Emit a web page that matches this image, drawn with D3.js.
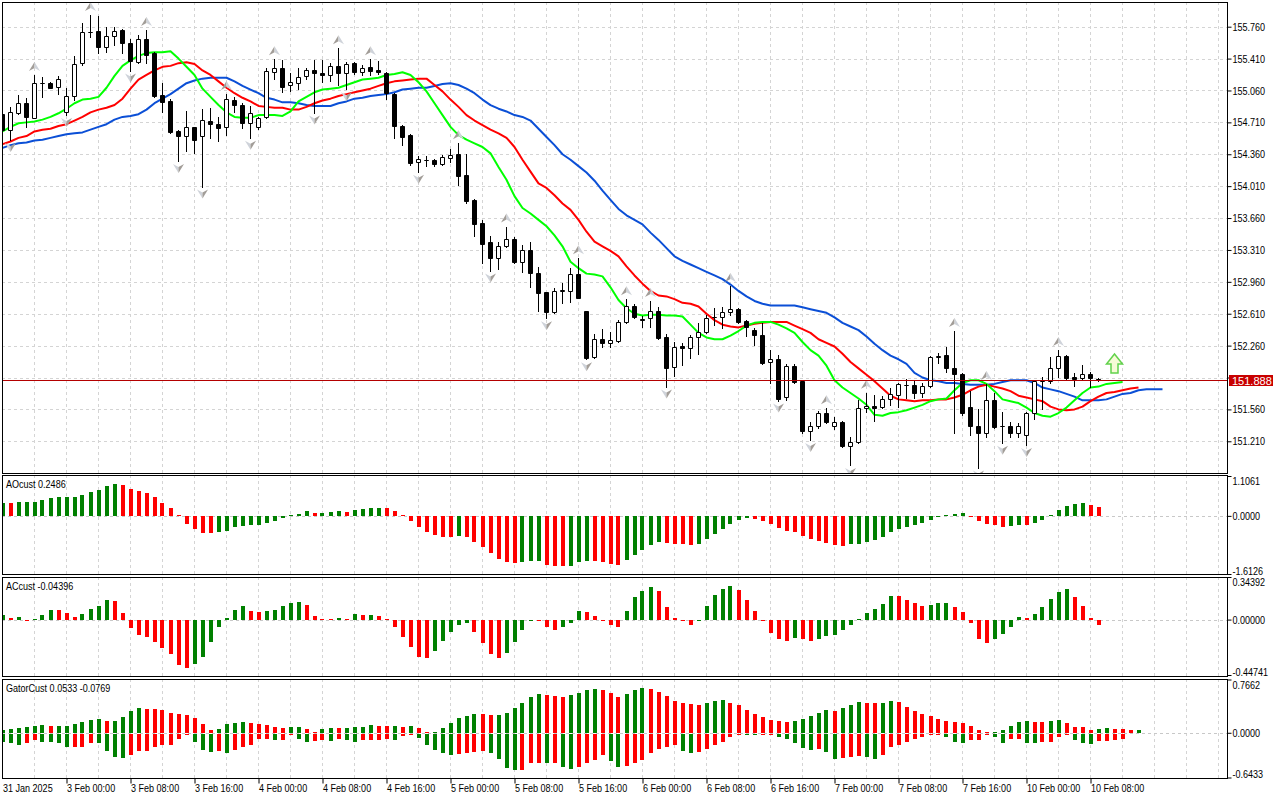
<!DOCTYPE html>
<html>
<head>
<meta charset="utf-8">
<script src="https://cdn.jsdelivr.net/npm/d3@7/dist/d3.min.js"></script>
<style>
html,body{margin:0;padding:0;background:#fff;overflow:hidden}
svg{display:block}
</style>
</head>
<body>
<svg id="chart" width="1280" height="800"></svg>
<script>
// ---------------- DATA ----------------
const openP = [154.802,154.627,154.817,154.919,154.762,155.146,155.139,155.095,154.828,155.003,
155.358,155.705,155.713,155.541,155.658,155.724,155.585,155.376,155.621,155.468,
155.011,154.948,154.616,154.564,154.659,154.564,154.725,154.692,154.656,154.956,
154.897,154.707,154.663,154.766,155.267,155.310,155.120,155.146,155.219,155.285,
155.256,155.230,155.329,155.248,155.358,155.267,155.314,155.285,155.256,155.022,
154.674,154.572,154.272,154.297,154.297,154.253,154.316,154.363,154.133,153.858,
153.610,153.394,153.218,153.357,153.434,153.182,153.310,153.054,152.845,152.633,
152.860,152.863,153.043,152.640,152.132,152.333,152.286,152.315,152.523,152.695,
152.553,152.560,152.644,152.351,152.030,152.256,152.231,152.351,152.414,152.571,
152.578,152.633,152.659,152.531,152.432,152.377,152.085,152.110,151.693,152.041,
151.872,151.324,151.382,151.525,151.379,151.426,151.162,151.206,151.572,151.598,
151.583,151.671,151.719,151.825,151.829,151.737,151.818,152.132,152.154,152.011,
151.945,151.583,151.382,151.298,151.664,151.382,151.379,151.298,151.280,151.518,
151.869,151.872,152.011,152.147,151.920,151.901,151.949,151.894];
const highP = [154.846,154.875,155.011,154.974,155.230,155.204,155.157,155.219,155.091,155.439,
155.804,155.888,155.877,155.760,155.753,155.731,155.621,155.669,155.724,155.486,
155.139,154.963,154.627,154.835,154.663,154.861,154.864,154.766,155.022,154.992,
154.919,154.890,154.773,155.303,155.402,155.395,155.256,155.303,155.303,155.395,
155.395,155.358,155.523,155.376,155.376,155.340,155.402,155.387,155.267,155.029,
154.681,154.579,154.341,154.341,154.305,154.352,154.414,154.480,154.363,153.866,
153.639,153.463,153.401,153.566,153.449,153.365,153.394,153.127,152.853,152.889,
152.951,153.109,153.218,152.640,152.388,152.439,152.414,152.542,152.768,152.717,
152.586,152.750,152.681,152.388,152.304,152.286,152.377,152.512,152.597,152.670,
152.688,152.915,152.670,152.542,152.450,152.505,152.213,152.158,152.055,152.055,
151.883,151.426,151.547,151.572,151.481,151.437,151.261,151.664,151.744,151.719,
151.708,151.792,151.854,151.891,151.883,151.847,152.147,152.176,152.249,152.421,
151.956,151.766,151.562,151.840,151.737,151.536,151.426,151.415,151.536,151.883,
151.913,152.132,152.213,152.154,151.956,152.048,151.975,151.901];
const lowP = [154.608,154.517,154.802,154.663,154.755,154.992,155.084,155.022,154.791,154.956,
155.340,155.651,155.468,155.486,155.559,155.468,155.278,155.358,155.358,154.985,
154.828,154.597,154.286,154.400,154.378,154.005,154.542,154.509,154.572,154.828,
154.645,154.542,154.638,154.755,155.186,155.047,155.055,155.073,155.182,154.817,
155.157,155.168,155.120,155.073,155.241,155.230,155.230,155.241,154.963,154.535,
154.462,154.243,154.169,154.232,154.235,154.243,154.272,154.023,153.822,153.463,
153.171,153.083,153.105,153.346,153.164,153.072,152.908,152.644,152.560,152.615,
152.732,152.743,152.780,152.110,152.121,152.249,152.242,152.304,152.512,152.560,
152.469,152.461,152.330,151.810,151.927,152.048,152.128,152.169,152.395,152.487,
152.450,152.597,152.505,152.366,152.267,152.055,151.854,151.657,151.664,151.854,
151.305,151.225,151.360,151.415,151.342,151.152,150.950,151.195,151.536,151.437,
151.572,151.609,151.591,151.682,151.682,151.693,151.803,152.066,151.975,151.305,
151.499,151.280,150.921,151.261,151.353,151.195,151.261,151.261,151.170,151.452,
151.562,151.854,151.913,151.883,151.821,151.891,151.810,151.876];
const closeP = [154.627,154.820,154.919,154.766,155.139,155.142,155.091,155.182,155.003,155.351,
155.698,155.700,155.541,155.658,155.717,155.577,155.387,155.621,155.450,155.000,
154.937,154.608,154.564,154.659,154.517,154.736,154.689,154.652,154.963,154.897,
154.707,154.809,154.755,155.274,155.310,155.102,155.150,155.212,155.281,155.256,
155.230,155.329,155.248,155.351,155.267,155.310,155.278,155.259,155.036,154.674,
154.553,154.261,154.305,154.294,154.253,154.327,154.352,154.125,153.851,153.595,
153.376,153.218,153.357,153.430,153.182,153.310,153.054,152.842,152.633,152.863,
152.867,153.043,152.787,152.128,152.330,152.286,152.322,152.523,152.695,152.571,
152.545,152.644,152.341,152.019,152.249,152.231,152.351,152.414,152.560,152.578,
152.633,152.659,152.523,152.469,152.377,152.074,152.110,151.675,152.041,151.865,
151.324,151.382,151.525,151.426,151.426,151.159,151.206,151.572,151.598,151.572,
151.671,151.726,151.836,151.832,151.737,151.818,152.132,152.147,152.011,151.945,
151.525,151.382,151.298,151.664,151.371,151.375,151.298,151.379,151.518,151.872,
151.876,152.011,152.147,151.909,151.898,151.945,151.901,151.888];

// Alligator lines (already shifted: lips +3, teeth +5, jaw +8 bars)
const lips = [154.61,154.66,154.70,154.71,154.72,154.74,154.77,154.81,154.86,154.92,
154.96,154.97,154.99,155.09,155.22,155.33,155.39,155.44,155.47,155.48,
155.48,155.49,155.41,155.32,155.23,155.08,154.99,154.90,154.82,154.77,
154.76,154.76,154.79,154.79,154.79,154.78,154.83,154.94,154.99,155.04,
155.07,155.08,155.09,155.12,155.15,155.18,155.19,155.20,155.23,155.24,
155.26,155.23,155.15,155.05,154.92,154.79,154.66,154.57,154.52,154.48,
154.44,154.37,154.22,154.08,153.90,153.77,153.71,153.64,153.57,153.47,
153.35,153.18,153.11,153.05,153.04,153.02,152.90,152.76,152.67,152.61,
152.59,152.60,152.60,152.59,152.59,152.58,152.49,152.40,152.35,152.33,
152.33,152.37,152.42,152.48,152.51,152.52,152.52,152.49,152.45,152.40,
152.30,152.21,152.15,152.04,151.88,151.80,151.74,151.68,151.61,151.50,
151.49,151.52,151.53,151.55,151.58,151.61,151.65,151.67,151.68,151.77,
151.85,151.88,151.88,151.84,151.76,151.67,151.65,151.63,151.58,151.52,
151.49,151.48,151.52,151.58,151.66,151.74,151.80,151.81,151.84,151.85,
151.86];
const teeth = [154.47,154.50,154.54,154.56,154.61,154.63,154.64,154.67,154.69,154.73,
154.77,154.82,154.85,154.87,154.90,154.97,155.08,155.18,155.23,155.28,
155.32,155.33,155.36,155.37,155.35,155.28,155.23,155.16,155.09,155.03,
154.98,154.94,154.89,154.88,154.87,154.87,154.85,154.85,154.88,154.92,
154.95,154.97,155.00,155.02,155.04,155.06,155.08,155.11,155.14,155.16,
155.17,155.18,155.19,155.19,155.12,155.05,154.96,154.88,154.79,154.73,
154.68,154.63,154.59,154.54,154.44,154.30,154.17,154.04,153.99,153.91,
153.82,153.75,153.64,153.51,153.40,153.35,153.30,153.24,153.13,153.03,
152.94,152.86,152.81,152.80,152.77,152.73,152.72,152.69,152.61,152.54,
152.49,152.47,152.46,152.48,152.50,152.51,152.52,152.52,152.52,152.48,
152.44,152.40,152.33,152.29,152.25,152.17,152.08,152.01,151.94,151.87,
151.79,151.71,151.67,151.66,151.65,151.66,151.66,151.67,151.67,151.69,
151.72,151.77,151.81,151.83,151.81,151.79,151.76,151.71,151.69,151.67,
151.65,151.59,151.56,151.55,151.56,151.59,151.65,151.70,151.74,151.75,
151.77,151.79,151.80];
const jaw = [154.43,154.46,154.48,154.49,154.51,154.52,154.54,154.56,154.58,154.59,
154.60,154.63,154.66,154.69,154.74,154.77,154.78,154.80,154.85,154.92,
154.97,155.02,155.08,155.14,155.17,155.19,155.20,155.20,155.20,155.16,
155.11,155.07,155.03,154.98,154.96,154.93,154.93,154.92,154.90,154.89,
154.89,154.89,154.92,154.94,154.97,154.98,155.00,155.01,155.02,155.04,
155.07,155.08,155.09,155.09,155.11,155.13,155.14,155.12,155.08,155.03,
154.96,154.90,154.86,154.83,154.79,154.77,154.73,154.64,154.55,154.46,
154.36,154.30,154.23,154.16,154.07,153.96,153.86,153.76,153.69,153.64,
153.59,153.50,153.42,153.33,153.24,153.19,153.15,153.11,153.07,153.03,
152.99,152.93,152.86,152.80,152.75,152.72,152.70,152.70,152.70,152.70,
152.68,152.66,152.64,152.62,152.57,152.51,152.47,152.43,152.36,152.28,
152.21,152.15,152.11,152.06,151.96,151.91,151.88,151.87,151.85,151.85,
151.84,151.83,151.83,151.83,151.84,151.86,151.88,151.88,151.88,151.85,
151.80,151.78,151.76,151.73,151.70,151.66,151.66,151.66,151.67,151.70,
151.73,151.74,151.77,151.78,151.78,151.78];

const fractalUp = [4,11,18,28,34,42,46,57,63,72,78,81,91,103,108,119,123,132];
const fractalDown = [1,8,16,22,25,31,39,43,52,61,68,73,83,97,101,106,122,125,128];

const aoValues = [0.360,0.350,0.389,0.392,0.395,0.444,0.500,0.518,0.522,0.537,
0.574,0.666,0.731,0.823,0.879,0.851,0.749,0.694,0.629,0.518,
0.352,0.222,0.009,-0.222,-0.361,-0.472,-0.475,-0.435,-0.407,-0.315,
-0.268,-0.262,-0.241,-0.185,-0.130,-0.056,0.005,0.055,0.140,0.083,
0.093,0.120,0.139,0.120,0.167,0.204,0.222,0.225,0.220,0.139,
0.019,-0.130,-0.296,-0.435,-0.518,-0.574,-0.580,-0.570,-0.592,-0.712,
-0.851,-1.027,-1.193,-1.286,-1.304,-1.267,-1.262,-1.258,-1.351,-1.378,
-1.385,-1.380,-1.267,-1.262,-1.265,-1.286,-1.332,-1.351,-1.221,-1.082,
-0.944,-0.796,-0.722,-0.759,-0.777,-0.780,-0.805,-0.777,-0.638,-0.500,
-0.361,-0.222,-0.111,-0.065,-0.093,-0.130,-0.222,-0.333,-0.407,-0.435,
-0.555,-0.638,-0.685,-0.749,-0.805,-0.833,-0.786,-0.777,-0.722,-0.657,
-0.574,-0.444,-0.361,-0.300,-0.241,-0.185,-0.102,-0.019,0.019,0.046,
0.074,-0.005,-0.130,-0.222,-0.250,-0.296,-0.290,-0.250,-0.255,-0.185,
-0.111,0.019,0.176,0.278,0.333,0.361,0.305,0.2486];

const acValues = [0.038,0.013,0.019,-0.005,0.005,0.038,0.078,0.075,0.054,0.019,
0.046,0.086,0.110,0.159,0.151,0.054,-0.067,-0.124,-0.143,-0.178,
-0.229,-0.277,-0.366,-0.390,-0.358,-0.299,-0.178,-0.059,0.013,0.078,
0.110,0.073,0.065,0.067,0.080,0.112,0.137,0.143,0.118,0.030,
0.008,0.005,0.011,0.003,0.046,0.038,0.040,0.030,0.005,-0.062,
-0.143,-0.218,-0.299,-0.307,-0.250,-0.175,-0.102,-0.040,-0.030,-0.097,
-0.186,-0.275,-0.312,-0.266,-0.178,-0.081,-0.008,-0.010,-0.062,-0.081,
-0.062,-0.024,0.070,0.062,0.030,-0.003,-0.040,-0.057,0.073,0.180,
0.231,0.261,0.231,0.102,0.013,-0.011,-0.040,-0.003,0.110,0.199,
0.245,0.269,0.240,0.159,0.070,-0.005,-0.105,-0.156,-0.170,-0.145,
-0.156,-0.170,-0.153,-0.129,-0.121,-0.081,-0.040,0.003,0.054,0.086,
0.127,0.191,0.188,0.159,0.135,0.110,0.118,0.135,0.137,0.105,
0.065,-0.030,-0.156,-0.186,-0.156,-0.116,-0.057,0.019,0.013,0.046,
0.102,0.167,0.223,0.248,0.183,0.110,0.013,-0.04396];

const gatorUpper = [0.038,0.053,0.062,0.086,0.096,0.115,0.096,0.097,0.098,0.125,
0.153,0.187,0.197,0.168,0.170,0.230,0.307,0.350,0.349,0.336,
0.321,0.283,0.268,0.254,0.211,0.129,0.043,0.053,0.120,0.144,
0.153,0.144,0.125,0.110,0.086,0.067,0.077,0.080,0.053,0.014,
0.053,0.067,0.066,0.068,0.081,0.086,0.115,0.101,0.096,0.097,
0.077,0.096,0.067,0.010,0.012,0.067,0.144,0.216,0.235,0.268,
0.265,0.254,0.259,0.288,0.355,0.431,0.518,0.556,0.537,0.532,
0.518,0.547,0.570,0.614,0.628,0.614,0.575,0.518,0.556,0.614,
0.642,0.628,0.585,0.527,0.460,0.431,0.412,0.403,0.427,0.451,
0.465,0.431,0.403,0.326,0.268,0.221,0.182,0.163,0.162,0.173,
0.197,0.240,0.283,0.326,0.312,0.350,0.398,0.436,0.435,0.427,
0.428,0.451,0.441,0.374,0.307,0.268,0.235,0.201,0.173,0.153,
0.139,0.091,0.034,0.003,0.005,0.034,0.096,0.153,0.168,0.153,
0.152,0.168,0.182,0.139,0.086,0.077,0.045,0.055,0.062,0.053,
0.050,0.038,0.040];
const gatorLower = [-0.139,-0.153,-0.173,-0.144,-0.101,-0.129,-0.130,-0.144,-0.201,-0.200,
-0.199,-0.144,-0.145,-0.259,-0.345,-0.360,-0.316,-0.259,-0.258,-0.201,
-0.173,-0.172,-0.091,-0.029,-0.129,-0.244,-0.273,-0.259,-0.288,-0.244,
-0.201,-0.173,-0.086,-0.085,-0.101,-0.100,-0.029,-0.086,-0.129,-0.115,
-0.101,-0.115,-0.091,-0.101,-0.129,-0.101,-0.100,-0.099,-0.091,-0.101,
-0.043,-0.029,-0.072,-0.173,-0.244,-0.297,-0.316,-0.310,-0.288,-0.273,
-0.259,-0.288,-0.374,-0.508,-0.537,-0.535,-0.431,-0.430,-0.441,-0.440,
-0.499,-0.523,-0.499,-0.441,-0.388,-0.316,-0.403,-0.499,-0.475,-0.431,
-0.388,-0.288,-0.230,-0.211,-0.173,-0.259,-0.297,-0.273,-0.235,-0.173,
-0.130,-0.067,-0.029,-0.031,-0.032,-0.019,-0.018,-0.058,-0.086,-0.144,
-0.221,-0.244,-0.230,-0.273,-0.374,-0.360,-0.345,-0.331,-0.345,-0.374,
-0.316,-0.211,-0.173,-0.129,-0.091,-0.058,-0.029,-0.010,-0.058,-0.129,
-0.144,-0.101,-0.100,-0.029,-0.058,-0.153,-0.086,-0.085,-0.144,-0.153,
-0.129,-0.128,-0.067,-0.029,-0.101,-0.153,-0.155,-0.125,-0.115,-0.101,
-0.091,0,0];

const priceTicks = [155.76,155.41,155.06,154.71,154.36,154.01,153.66,153.31,152.96,152.61,152.26,151.91,151.56,151.21];
const timeTickBars = [0,8,16,24,32,40,48,56,64,72,80,88,96,104,112,120,128,136];
const timeTickLabels = ["31 Jan 2025","3 Feb 00:00","3 Feb 08:00","3 Feb 16:00","4 Feb 00:00","4 Feb 08:00",
  "4 Feb 16:00","5 Feb 00:00","5 Feb 08:00","5 Feb 16:00","6 Feb 00:00","6 Feb 08:00","6 Feb 16:00",
  "7 Feb 00:00","7 Feb 08:00","7 Feb 16:00","10 Feb 00:00","10 Feb 08:00"];
const currentPrice = 151.888;
const signalArrow = {bar: 139, price: 151.960};
const aoTicks = [1.1061, 0, -1.6126],   aoTickLabels = ["1.1061","0.0000","-1.6126"];
const acTicks = [0.34392, 0, -0.44741], acTickLabels = ["0.34392","0.00000","-0.44741"];
const gatorTicks = [0.7662, 0, -0.6433], gatorTickLabels = ["0.7662","0.0000","-0.6433"];
const aoTitle = "AOcust 0.2486";
const acTitle = "ACcust -0.04396";
const gatorTitle = "GatorCust 0.0533 -0.0769";

// ---------------- LAYOUT ----------------
const FONT = '"Liberation Sans",Arial,sans-serif';
const CONDENSE = 0.82;
const GREEN = "#008000", RED = "#ff0000";
const GRID = "#d4d4d4";
const L = 2, R = 1228;
const panes = {
  main:  {top: 2,   bottom: 473},
  ao:    {top: 475, bottom: 574},
  ac:    {top: 577, bottom: 676},
  gator: {top: 679, bottom: 778}
};

const svg = d3.select("#chart");
const defs = svg.append("defs");
Object.entries(panes).forEach(([k, p]) => {
  defs.append("clipPath").attr("id", "clip-" + k)
    .append("rect").attr("x", L + 1).attr("y", p.top + 1)
    .attr("width", R - L - 1).attr("height", p.bottom - p.top - 1);
});

function condense(sel) {
  sel.each(function () {
    const w = this.getComputedTextLength();
    if (w > 0) d3.select(this).attr("textLength", (w * CONDENSE).toFixed(2)).attr("lengthAdjust", "spacingAndGlyphs");
  });
}

const x = d3.scaleLinear().domain([0, 137]).range([2.5, 1098.5]);
const yMain = d3.scaleLinear().domain([150.862, 156.031]).range([473, 2]);
const yAO = d3.scaleLinear().domain([-1.6126, 1.1061]).range([574, 476]);
const yAC = d3.scaleLinear().domain([-0.44741, 0.34392]).range([675, 577]);
const yG = d3.scaleLinear().domain([-0.6433, 0.7662]).range([777.5, 679.5]);

// ---------------- GRID ----------------
const gridBars = d3.range(0, 153, 4).filter(k => x(k) > L + 1 && x(k) < R - 1);
Object.values(panes).forEach(p => {
  svg.append("g").selectAll("line").data(gridBars).join("line")
    .attr("x1", d => x(d)).attr("x2", d => x(d))
    .attr("y1", p.top).attr("y2", p.bottom)
    .attr("stroke", GRID).attr("stroke-dasharray", "3,3");
});
svg.append("g").selectAll("line").data(priceTicks).join("line")
  .attr("x1", L).attr("x2", R)
  .attr("y1", d => Math.round(yMain(d)) + 0.5).attr("y2", d => Math.round(yMain(d)) + 0.5)
  .attr("stroke", GRID).attr("stroke-dasharray", "3,3");
[[yAO], [yAC], [yG]].forEach(([s]) => {
  svg.append("line").attr("x1", L).attr("x2", R)
    .attr("y1", Math.round(s(0)) + 0.5).attr("y2", Math.round(s(0)) + 0.5)
    .attr("stroke", "#c8c8c8").attr("stroke-dasharray", "3,3");
});

// ---------------- MAIN: alligator lines ----------------
const main = svg.append("g").attr("clip-path", "url(#clip-main)");
const line = d3.line().x((d, i) => x(i)).y(d => yMain(d));
[[jaw, "#0b4fd6"], [teeth, "#ff0000"], [lips, "#00ff00"]].forEach(([arr, col]) => {
  main.append("path").datum(arr).attr("d", line)
    .attr("fill", "none").attr("stroke", col).attr("stroke-width", 2)
    .attr("stroke-linejoin", "round");
});

// ---------------- MAIN: candles ----------------
const candles = closeP.map((c, i) => ({i, o: openP[i], h: highP[i], l: lowP[i], c}));
const ry = v => Math.round(yMain(v));
main.append("g").selectAll("line").data(candles).join("line")
  .attr("x1", d => x(d.i)).attr("x2", d => x(d.i))
  .attr("y1", d => ry(d.h)).attr("y2", d => ry(d.l) + 1)
  .attr("stroke", "#000").attr("stroke-width", 1);
main.append("g").selectAll("path").data(candles).join("path")
  .attr("d", d => {
    const t = ry(Math.max(d.o, d.c)) + 0.5, b = ry(Math.min(d.o, d.c)) + 0.5;
    const x0 = x(d.i) - 2;
    return `M${x0},${t}H${x0 + 4}V${b}H${x0}Z`;
  })
  .attr("fill", d => d.c >= d.o ? "#fff" : "#000")
  .attr("stroke", "#000").attr("stroke-width", 1);

// ---------------- MAIN: fractals ----------------
const fr = svg.append("g").attr("clip-path", "url(#clip-main)");
fractalUp.forEach(k => {
  const cx = x(k), base = yMain(highP[k]) - 4, tip = base - 9;
  fr.append("path").attr("d", `M${cx},${tip}L${cx - 5.5},${base}L${cx},${base - 3}Z`).attr("fill", "#a29d98");
  fr.append("path").attr("d", `M${cx},${tip}L${cx + 5.5},${base}L${cx},${base - 3}Z`).attr("fill", "#cfd3da");
});
fractalDown.forEach(k => {
  const cx = x(k), base = yMain(lowP[k]) + 3, tip = base + 9;
  fr.append("path").attr("d", `M${cx},${tip}L${cx - 5.5},${base}L${cx},${base + 3}Z`).attr("fill", "#cfd3da");
  fr.append("path").attr("d", `M${cx},${tip}L${cx + 5.5},${base}L${cx},${base + 3}Z`).attr("fill", "#a29d98");
});

// signal arrow
{
  const cx = x(signalArrow.bar), yb = yMain(signalArrow.price);
  svg.append("path")
    .attr("d", `M${cx - 3.5},${yb}V${yb - 9}H${cx - 8}L${cx},${yb - 19}L${cx + 8},${yb - 9}H${cx + 3.5}V${yb}Z`)
    .attr("fill", "#f6fbd6").attr("stroke", "#62d24c").attr("stroke-width", 1.5)
    .attr("stroke-linejoin", "miter");
}

// current price line
const yCur = Math.round(yMain(currentPrice)) + 0.5;
svg.append("line").attr("x1", L).attr("x2", R).attr("y1", yCur).attr("y2", yCur)
  .attr("stroke", "#b40000").attr("stroke-width", 1);

// ---------------- HISTOGRAMS ----------------
function colorsOf(vals, absMode) {
  return vals.map((v, i) => {
    if (i === 0) return GREEN;
    const a = absMode ? Math.abs(v) : v, b = absMode ? Math.abs(vals[i - 1]) : vals[i - 1];
    return a > b ? GREEN : RED;
  });
}
function drawHist(clipId, vals, scale, cols, gapBelow) {
  const g = svg.append("g").attr("clip-path", `url(#${clipId})`);
  const y0 = Math.round(scale(0));
  const data = vals.map((v, i) => ({i, v, c: cols[i]})).filter(d => d.v !== 0);
  g.selectAll("rect").data(data).join("rect")
    .attr("x", d => Math.round(x(d.i) - 2))
    .attr("width", 4)
    .attr("y", d => d.v > 0 ? Math.min(Math.round(scale(d.v)), y0 - 1) : y0 + (gapBelow ? 1 : 0))
    .attr("height", d => {
      if (d.v > 0) return Math.max(1, y0 - Math.round(scale(d.v)));
      return Math.max(1, Math.round(scale(d.v)) - y0 - (gapBelow ? 1 : 0));
    })
    .attr("fill", d => d.c);
}
drawHist("clip-ao", aoValues, yAO, colorsOf(aoValues, false), false);
drawHist("clip-ac", acValues, yAC, colorsOf(acValues, false), false);
drawHist("clip-gator", gatorUpper, yG, colorsOf(gatorUpper, true), false);
drawHist("clip-gator", gatorLower, yG, colorsOf(gatorLower, true), true);

// ---------------- FRAMES ----------------
Object.values(panes).forEach(p => {
  svg.append("rect").attr("x", L + 0.5).attr("y", p.top + 0.5)
    .attr("width", R - L - 1).attr("height", p.bottom - p.top)
    .attr("fill", "none").attr("stroke", "#000").attr("stroke-width", 1);
});

// ---------------- AXES ----------------
function styleAxis(g) {
  g.attr("font-family", FONT).attr("font-size", 11).attr("color", "#000");
  g.select(".domain").remove();
}
const priceAxis = svg.append("g").attr("transform", `translate(${R - 0.5},0)`)
  .call(d3.axisRight(yMain).tickValues(priceTicks).tickSize(4).tickPadding(1).tickFormat(d3.format(".3f")));
styleAxis(priceAxis);
priceAxis.selectAll(".tick").filter(d => Math.abs(d - currentPrice) < 0.05).select("text").remove();
condense(priceAxis.selectAll(".tick text"));

function subAxis(scale, ticks, labels) {
  const g = svg.append("g").attr("transform", `translate(${R - 0.5},0)`)
    .call(d3.axisRight(scale).tickValues(ticks).tickSize(4).tickPadding(1)
      .tickFormat((d, i) => labels[i]));
  styleAxis(g);
  g.selectAll(".tick text").attr("dy", (d, i) => i === 0 ? "8.5px" : (i === 2 ? "0px" : "3.6px"));
  condense(g.selectAll(".tick text"));
}
subAxis(yAO, aoTicks, aoTickLabels);
subAxis(yAC, acTicks, acTickLabels);
subAxis(yG, gatorTicks, gatorTickLabels);

// current price label
svg.append("rect").attr("x", 1229).attr("y", yCur - 5.5).attr("width", 44).attr("height", 11).attr("fill", "#c80000");
svg.append("text").attr("x", 1232).attr("y", yCur + 4)
  .attr("font-family", FONT).attr("font-size", 11)
  .attr("fill", "#fff").text(d3.format(".3f")(currentPrice));

// time axis
const timeAxis = svg.append("g").attr("transform", `translate(0,${panes.gator.bottom + 0.5})`)
  .call(d3.axisBottom(x).tickValues(timeTickBars).tickSize(5).tickPadding(1)
    .tickFormat((d, i) => timeTickLabels[i]));
styleAxis(timeAxis);
timeAxis.selectAll(".tick text").attr("text-anchor", "start").attr("x", 0);
timeAxis.selectAll(".tick").filter(d => d === 0).select("line").remove();
condense(timeAxis.selectAll(".tick text"));

// pane titles
[[aoTitle, panes.ao.top], [acTitle, panes.ac.top], [gatorTitle, panes.gator.top]].forEach(([t, top]) => {
  const tx = svg.append("text").attr("x", 6).attr("y", top + 13)
    .attr("font-family", FONT).attr("font-size", 11).attr("fill", "#000").text(t);
  condense(tx);
});
</script>
</body>
</html>
